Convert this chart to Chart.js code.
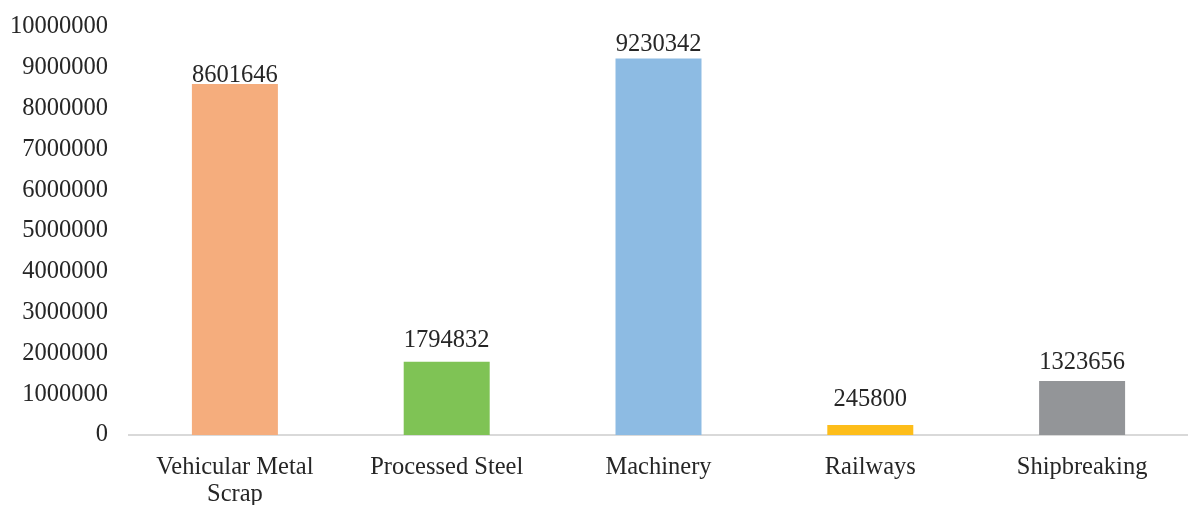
<!DOCTYPE html>
<html>
<head>
<meta charset="utf-8">
<script src="https://cdn.jsdelivr.net/npm/chart.js@4/dist/chart.umd.min.js"></script>
<style>
  body { margin: 0; background: #fff; }
  #wrap { width: 1188px; height: 505px; }
</style>
</head>
<body>
<div id="wrap"><canvas id="chart" width="1188" height="505"></canvas></div>
<script>
var categories = [["Vehicular Metal", "Scrap"], "Processed Steel", "Machinery", "Railways", "Shipbreaking"];
var values = [8601646, 1794832, 9230342, 245800, 1323656];
var barColors = ["#F5AD7D", "#7FC355", "#8DBBE3", "#FDBD1A", "#939598"];
var yTicks = [0, 1000000, 2000000, 3000000, 4000000, 5000000, 6000000, 7000000, 8000000, 9000000, 10000000];

var fontFamily = "'Liberation Serif', 'Times New Roman', serif";
var textColor = "#262626";
var fontSize = 24.5;

// gap (px) between bar top and label baseline, as placed in the original
var labelGap = [2, 15, 7, 19, 12];

// draws the number above each bar
var valueLabels = {
  id: "valueLabels",
  afterDatasetsDraw: function (chart) {
    var ctx = chart.ctx;
    var meta = chart.getDatasetMeta(0);
    ctx.save();
    ctx.font = fontSize + "px " + fontFamily;
    ctx.fillStyle = textColor;
    ctx.textAlign = "center";
    ctx.textBaseline = "alphabetic";
    meta.data.forEach(function (bar, i) {
      ctx.fillText(String(values[i]), bar.x, bar.y - labelGap[i]);
    });
    ctx.restore();
  }
};

var ctx = document.getElementById("chart").getContext("2d");
var chart = new Chart(ctx, {
  type: "bar",
  data: {
    labels: categories,
    datasets: [{
      data: values,
      backgroundColor: barColors,
      borderWidth: 0,
      categoryPercentage: 1,
      barPercentage: 0.406
    }]
  },
  options: {
    responsive: false,
    animation: false,
    layout: { padding: { top: 27, right: 0, left: 0, bottom: 0 } },
    plugins: {
      legend: { display: false },
      tooltip: { enabled: false }
    },
    scales: {
      x: {
        grid: { display: false, drawTicks: false },
        border: { display: true, color: "#D9D9D9", width: 2 },
        ticks: {
          color: textColor,
          font: { family: fontFamily, size: fontSize, lineHeight: 1.1 },
          padding: 19,
          maxRotation: 0,
          autoSkip: false
        },
        afterFit: function (scale) { scale.height = 70; }
      },
      y: {
        min: 0,
        max: 10000000,
        afterBuildTicks: function (scale) {
          scale.ticks = yTicks.map(function (v) { return { value: v }; });
        },
        grid: { display: false, drawTicks: false },
        border: { display: false },
        ticks: {
          color: textColor,
          font: { family: fontFamily, size: fontSize },
          padding: 21,
          callback: function (v) { return String(v); }
        },
        afterFit: function (scale) {
          scale.width = 129;
          scale.paddingTop = 0;
          scale.paddingBottom = 0;
        }
      }
    }
  },
  plugins: [valueLabels]
});
</script>
</body>
</html>
